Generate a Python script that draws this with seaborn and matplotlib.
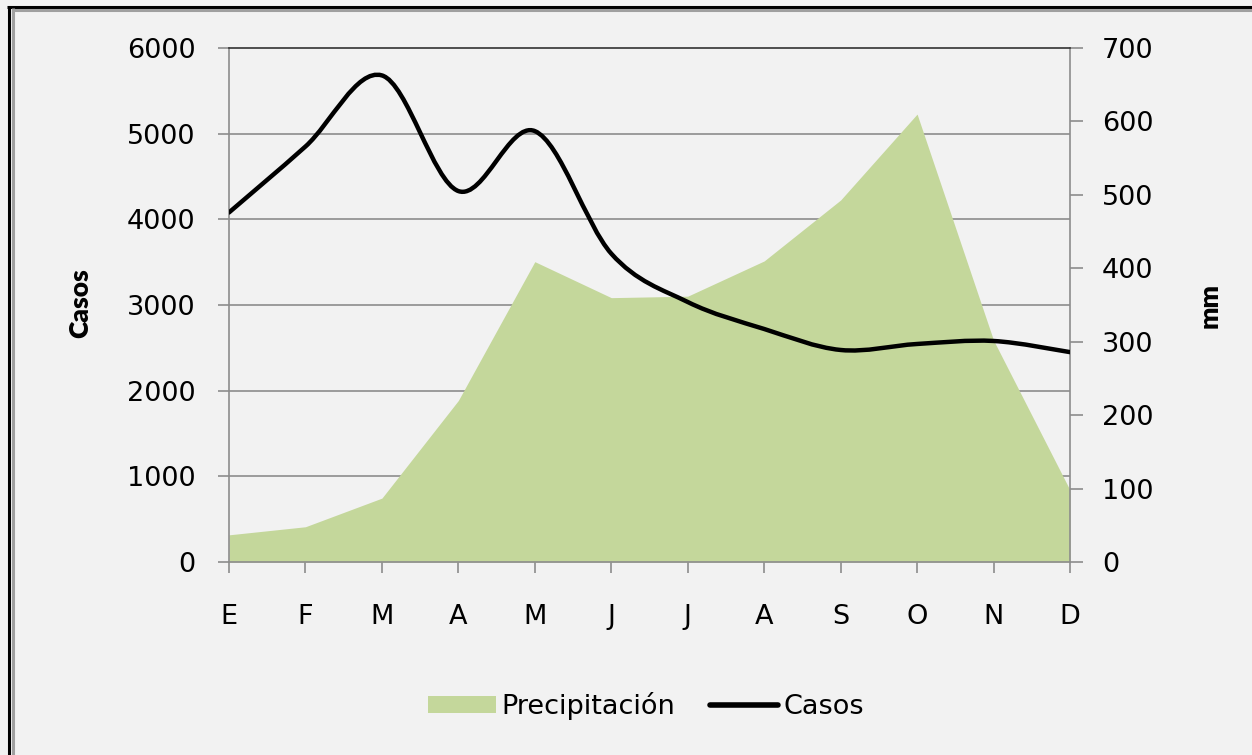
import matplotlib
matplotlib.use('Agg')
import matplotlib.pyplot as plt
import seaborn as sns
from matplotlib.path import Path
from matplotlib.patches import PathPatch, Patch
from matplotlib.lines import Line2D

# Datos
meses = ['E', 'F', 'M', 'A', 'M', 'J', 'J', 'A', 'S', 'O', 'N', 'D']
precipitacion = [37, 48, 87, 220, 409, 360, 362, 410, 493, 610, 302, 98]
casos = [4080, 4850, 5680, 4330, 5030, 3600, 3035, 2720, 2475, 2545, 2580, 2450]

sns.set_theme(style='white')
plt.rcParams['font.family'] = ['DejaVu Sans']
plt.rcParams['text.color'] = 'black'
fs = 19.5

bg = '#f2f2f2'
gris = '#8c8c8c'
verde = '#c4d79b'

fig = plt.figure(figsize=(12.52, 7.55), dpi=100, facecolor=bg)
ax1 = fig.add_axes([229/1252, 1-562/755, (1070-229)/1252, (562-48)/755])
ax1.set_facecolor(bg)
ax2 = ax1.twinx()

x = list(range(len(meses)))

# Área de precipitación (eje derecho)
ax2.fill_between(x, 0, precipitacion, color=verde, linewidth=0, zorder=1)

# Líneas de cuadrícula (eje izquierdo, debajo del área)
for v in [1000, 2000, 3000, 4000, 5000]:
    ax1.axhline(v, color=gris, lw=1.2, zorder=0)

# Curva suavizada de casos
pts = list(zip(x, casos))
verts = [pts[0]]
codes = [Path.MOVETO]
n = len(pts)
for i in range(n - 1):
    p0 = pts[max(i - 1, 0)]
    p1 = pts[i]
    p2 = pts[i + 1]
    p3 = pts[min(i + 2, n - 1)]
    c1 = (p1[0] + (p2[0] - p0[0]) / 6, p1[1] + (p2[1] - p0[1]) / 6)
    c2 = (p2[0] - (p3[0] - p1[0]) / 6, p2[1] - (p3[1] - p1[1]) / 6)
    verts += [c1, c2, p2]
    codes += [Path.CURVE4] * 3
curva = PathPatch(Path(verts, codes), facecolor='none', edgecolor='black',
                  lw=3.2, transform=ax1.transData, zorder=3, capstyle='round')
ax2.add_patch(curva)

ax1.set_xlim(0, 11)
ax1.set_ylim(0, 6000)
ax2.set_ylim(0, 700)
ax1.set_xticks(x)
ax1.set_xticklabels(meses)
ax1.set_yticks(range(0, 6001, 1000))
ax2.set_yticks(range(0, 701, 100))

for ax in (ax1, ax2):
    for s in ax.spines.values():
        s.set_visible(False)
for k in ['left', 'right', 'bottom']:
    ax2.spines[k].set_visible(True)
    ax2.spines[k].set_color(gris)
    ax2.spines[k].set_linewidth(1.2)
ax2.spines['top'].set_visible(True)
ax2.spines['top'].set_color('#333333')
ax2.spines['top'].set_linewidth(1.2)

ax1.tick_params(axis='y', direction='out', length=8, width=1.2, color=gris,
                pad=16, labelsize=fs, left=True, labelcolor='black')
ax1.tick_params(axis='x', direction='out', length=8, width=1.2, color=gris,
                pad=22, labelsize=fs, bottom=True, labelcolor='black')
ax2.tick_params(axis='y', direction='out', length=9, width=1.2, color=gris,
                pad=14, labelsize=fs, right=True, labelcolor='black')
ax1.grid(False)
ax2.grid(False)

fig.text(80/1252, 1-303/755, 'Casos', rotation=90, fontsize=19,
         fontweight='heavy', ha='center', va='center', family=['Lato'])
fig.text(1210/1252, 1-305/755, 'mm', rotation=90, fontsize=19,
         fontweight='heavy', ha='center', va='center', family=['Lato'])

handles = [Patch(facecolor=verde, edgecolor='none'),
           Line2D([0], [0], color='black', lw=4)]
fig.legend(handles, ['Precipitación', 'Casos'], loc='center',
           bbox_to_anchor=(646/1252, 1-706/755), ncol=2, frameon=False,
           fontsize=fs, handlelength=2.5, handletextpad=0.2,
           columnspacing=1.3, handleheight=0.6)

# Marco exterior
H, W = 755, 1252
fig.add_artist(Line2D([8.5/W, 8.5/W], [0, 1-5.5/H], color='black', lw=2.2,
                      transform=fig.transFigure, solid_capstyle='butt'))
fig.add_artist(Line2D([7/W, 1], [1-6.5/H, 1-6.5/H], color='black', lw=2.2,
                      transform=fig.transFigure, solid_capstyle='butt'))
fig.add_artist(Line2D([13/W, 13/W], [0, 1-8/H], color='#a0a0a0', lw=2.2,
                      transform=fig.transFigure, solid_capstyle='butt'))
fig.add_artist(Line2D([11.5/W, 1], [1-9.5/H, 1-9.5/H], color='#a0a0a0', lw=2.2,
                      transform=fig.transFigure, solid_capstyle='butt'))

fig.savefig('out.png', dpi=100, facecolor=bg)
